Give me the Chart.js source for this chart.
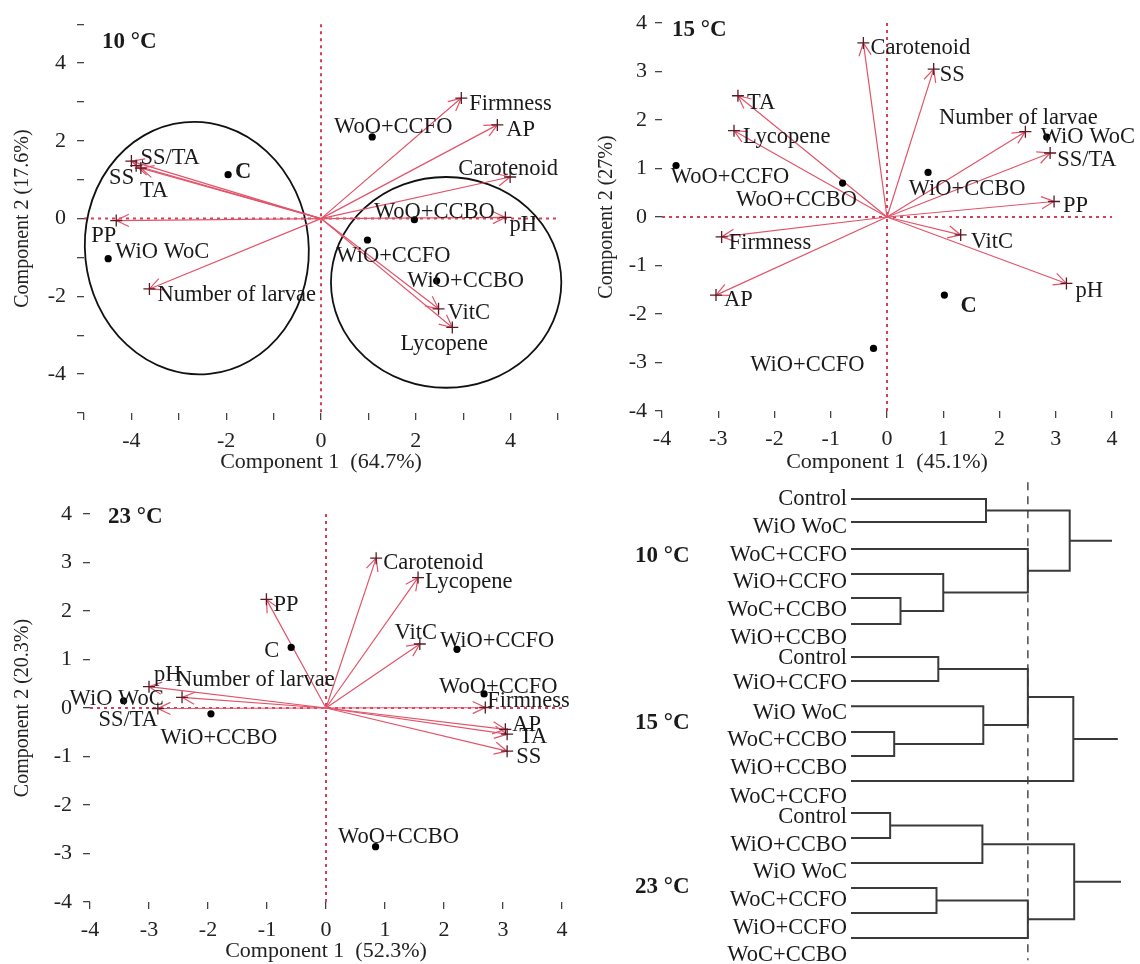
<!DOCTYPE html>
<html>
<head>
<meta charset="utf-8">
<title>PCA biplots and cluster dendrogram</title>
<script src="https://cdn.jsdelivr.net/npm/chart.js@4.4.1/dist/chart.umd.min.js"></script>
<style>
  body { margin: 0; background: #fff; }
  #page { position: relative; width: 1140px; height: 964px; overflow: hidden; }
  canvas { position: absolute; }
</style>
</head>
<body>
<div id="page">
  <canvas id="pca10" width="580" height="475" style="left:0;top:0"></canvas>
  <canvas id="pca15" width="560" height="475" style="left:580px;top:0"></canvas>
  <canvas id="pca23" width="580" height="489" style="left:0;top:475px"></canvas>
  <canvas id="dendro" width="560" height="494" style="left:580px;top:470px"></canvas>
</div>
<script>
// ---- 10 °C biplot ----
const treatments10 = ['C', 'WoO+CCFO', 'WoO+CCBO', 'WiO+CCFO', 'WiO+CCBO', 'WiO WoC'];
const pc1Scores10 = [-1.96, 1.08, 1.97, 0.98, 2.44, -4.49];
const pc2Scores10 = [1.13, 2.10, -0.03, -0.55, -1.60, -1.03];
const traits10 = ['Firmness', 'AP', 'Carotenoid', 'pH', 'VitC', 'Lycopene', 'Number of larvae', 'PP', 'SS/TA', 'SS', 'TA'];
const pc1Loadings10 = [2.96, 3.72, 3.99, 3.89, 2.48, 2.77, -3.62, -4.32, -4.0, -3.9, -3.8];
const pc2Loadings10 = [3.10, 2.41, 1.07, 0.03, -2.32, -2.80, -1.81, -0.05, 1.48, 1.36, 1.30];
// group ellipses: centre and half axes in component units
const ellipseCx10 = [-2.62, 2.64];
const ellipseCy10 = [-0.76, -1.64];
const ellipseRx10 = [2.36, 2.43];
const ellipseRy10 = [3.25, 2.71];

// ---- 15 °C biplot ----
const treatments15 = ['WoO+CCFO', 'WoO+CCBO', 'WiO+CCBO', 'WiO WoC', 'C', 'WiO+CCFO'];
const pc1Scores15 = [-3.75, -0.79, 0.73, 2.84, 1.02, -0.24];
const pc2Scores15 = [1.06, 0.70, 0.92, 1.65, -1.61, -2.71];
const traits15 = ['Carotenoid', 'SS', 'TA', 'Lycopene', 'Number of larvae', 'SS/TA', 'PP', 'VitC', 'pH', 'Firmness', 'AP'];
const pc1Loadings15 = [-0.42, 0.83, -2.65, -2.72, 2.46, 2.90, 2.97, 1.31, 3.19, -2.94, -3.04];
const pc2Loadings15 = [3.59, 3.05, 2.50, 1.78, 1.76, 1.32, 0.32, -0.37, -1.37, -0.41, -1.61];

// ---- 23 °C biplot ----
const treatments23 = ['C', 'WiO+CCFO', 'WoO+CCFO', 'WiO WoC', 'WiO+CCBO', 'WoO+CCBO'];
const pc1Scores23 = [-0.59, 2.22, 2.68, -3.43, -1.95, 0.84];
const pc2Scores23 = [1.25, 1.21, 0.29, 0.15, -0.12, -2.86];
const traits23 = ['Carotenoid', 'Lycopene', 'PP', 'VitC', 'Firmness', 'AP', 'TA', 'SS', 'pH', 'Number of larvae', 'SS/TA'];
const pc1Loadings23 = [0.85, 1.56, -1.01, 1.59, 2.70, 3.04, 3.07, 3.07, -3.00, -2.44, -2.85];
const pc2Loadings23 = [3.09, 2.69, 2.24, 1.32, 0.01, -0.44, -0.54, -0.89, 0.44, 0.22, -0.01];

// ---- dendrogram (leaf rows, merges as [nodeA, nodeB, distance]) ----
const groupNames = ['10 °C', '15 °C', '23 °C'];
const leaves10 = ['Control', 'WiO WoC', 'WoC+CCFO', 'WiO+CCFO', 'WoC+CCBO', 'WiO+CCBO'];
const leafRows10 = [0, 0.83, 1.8, 2.7, 3.56, 4.5];
const labelRows10 = [0, 1, 2, 3, 4, 5];
const merges10 = [[4, 5, 1.1], [3, 6, 2.05], [0, 1, 3.0], [2, 7, 3.93], [8, 9, 4.86]];
const leaves15 = ['Control', 'WiO+CCFO', 'WiO WoC', 'WoC+CCBO', 'WiO+CCBO', 'WoC+CCFO'];
const leafRows15 = [5.68, 6.55, 7.45, 8.38, 9.24, 10.14];
const labelRows15 = [5.72, 6.62, 7.7, 8.67, 9.68, 10.72];
const merges15 = [[0, 1, 1.94], [3, 4, 0.96], [2, 7, 2.94], [6, 8, 3.93], [9, 5, 4.94]];
const leaves23 = ['Control', 'WiO+CCBO', 'WiO WoC', 'WoC+CCFO', 'WiO+CCFO', 'WoC+CCBO'];
const leafRows23 = [11.29, 12.19, 13.09, 13.99, 14.89, 15.79];
const labelRows23 = [11.44, 12.45, 13.42, 14.42, 15.43, 16.4];
const merges23 = [[0, 1, 0.87], [6, 2, 2.92], [3, 4, 1.9], [8, 5, 3.93], [7, 9, 4.96]];
const rootTails = [5.8, 5.93, 6.0];
const groupRows = [2.05, 8.06, 13.95];
const cutDistance = 3.93;

// label placement: [dx, dy, align, bold]
const scoreTags10 = [[7, -2, 'left', true], [21, -10, 'center'], [20, -8, 'center'], [26, 16, 'center'], [29, 0, 'center'], [7, -7, 'left']];
const traitTags10 = [[8, 6, 'left'], [9, 5, 'left'], [-2, -8, 'center'], [4, 8, 'left'], [9, 4, 'left'], [-8, 17, 'center'],
  [8, 6, 'left'], [0, 16, 'right'], [9, -3, 'left'], [-2, 12, 'right'], [-1, 23, 'left']];
const scoreTags15 = [[54, 12, 'center'], [-46, 17, 'center'], [39, 17, 'center'], [-6, 0, 'left'], [16, 11, 'left', true], [-9, 17, 'right']];
const traitTags15 = [[7, 5, 'left'], [6, 6, 'left'], [9, 7, 'left'], [9, 6, 'left'], [-7, -14, 'center'], [7, 7, 'left'],
  [9, 5, 'left'], [10, 7, 'left'], [9, 8, 'left'], [7, 6, 'left'], [8, 5, 'left']];
const scoreTags23 = [[-12, 4, 'right'], [-17, -8, 'left'], [-45, -7, 'left'], [-7, -2, 'center'], [8, 24, 'center'], [23, -10, 'center']];
const traitTags23 = [[7, 5, 'left'], [7, 5, 'left'], [7, 6, 'left'], [-4, -11, 'center'], [2, -6, 'left'], [7, -4, 'left'],
  [12, 3, 'left'], [9, 6, 'left'], [5, -12, 'left'], [-6, -17, 'left'], [0, 12, 'right']];

const SERIF = '"Liberation Serif", "Times New Roman", serif';
const ARROW = '#e2546a';

// arrows, zero lines, ellipses and text for the biplots
const biplotPlugin = {
  id: 'biplot',
  beforeDatasetsDraw(chart, args, opts) {
    const { ctx, chartArea: a, scales: { x, y } } = chart;
    const x0 = x.getPixelForValue(0), y0 = y.getPixelForValue(0);
    ctx.save();
    ctx.strokeStyle = '#d63f58';
    ctx.lineWidth = 2;
    ctx.setLineDash([3, 4]);
    ctx.beginPath();
    ctx.moveTo(a.left, y0); ctx.lineTo(a.right, y0);
    ctx.moveTo(x0, a.top); ctx.lineTo(x0, a.bottom);
    ctx.stroke();
    ctx.setLineDash([]);

    (opts.ellipses || []).forEach(e => {
      const cx = x.getPixelForValue(e.cx), cy = y.getPixelForValue(e.cy);
      const rx = x.getPixelForValue(e.cx + e.rx) - cx;
      const ry = cy - y.getPixelForValue(e.cy + e.ry);
      ctx.strokeStyle = '#111';
      ctx.lineWidth = 1.8;
      ctx.beginPath();
      ctx.ellipse(cx, cy, rx, ry, e.rot || 0, 0, Math.PI * 2);
      ctx.stroke();
    });

    ctx.strokeStyle = ARROW;
    ctx.lineWidth = 1.2;
    chart.getDatasetMeta(1).data.forEach(pt => {
      const ang = Math.atan2(pt.y - y0, pt.x - x0);
      ctx.beginPath();
      ctx.moveTo(x0, y0);
      ctx.lineTo(pt.x, pt.y);
      ctx.moveTo(pt.x - 14 * Math.cos(ang - 0.45), pt.y - 14 * Math.sin(ang - 0.45));
      ctx.lineTo(pt.x, pt.y);
      ctx.lineTo(pt.x - 14 * Math.cos(ang + 0.45), pt.y - 14 * Math.sin(ang + 0.45));
      ctx.stroke();
    });
    ctx.restore();
  },
  afterDatasetsDraw(chart, args, opts) {
    const { ctx } = chart;
    ctx.save();
    ctx.fillStyle = '#1a1a1a';
    ctx.textBaseline = 'middle';
    [[0, opts.scoreNames, opts.scoreTags], [1, opts.traitNames, opts.traitTags]].forEach(([di, names, tags]) => {
      chart.getDatasetMeta(di).data.forEach((pt, i) => {
        const [dx, dy, align, bold] = tags[i];
        ctx.font = (bold ? 'bold ' : '') + '22.5px ' + SERIF;
        ctx.textAlign = align;
        ctx.fillText(names[i], pt.x + dx, pt.y + dy);
      });
    });
    ctx.font = 'bold 23px ' + SERIF;
    ctx.textAlign = 'left';
    ctx.fillText(opts.title, opts.titleAt[0], opts.titleAt[1]);
    ctx.restore();
  }
};

function biplot(id, o) {
  const axisFont = { family: SERIF, size: 22 };
  const tickGrid = { drawOnChartArea: false, tickLength: 7, color: '#444', lineWidth: 1.3 };
  return new Chart(document.getElementById(id), {
    type: 'scatter',
    data: {
      datasets: [{
        data: o.sx.map((v, i) => ({ x: v, y: o.sy[i] })),
        pointRadius: 3.6,
        backgroundColor: '#000',
        borderWidth: 0
      }, {
        data: o.lx.map((v, i) => ({ x: v, y: o.ly[i] })),
        pointStyle: 'cross',
        pointRadius: 6,
        borderColor: '#5a1a24',
        borderWidth: 1.3
      }]
    },
    options: {
      responsive: false,
      animation: false,
      devicePixelRatio: 1,
      layout: { padding: { left: 0, top: o.top, right: o.right, bottom: 0 } },
      plugins: {
        legend: { display: false },
        tooltip: { enabled: false },
        biplot: {
          scoreNames: o.names, scoreTags: o.nameTags,
          traitNames: o.traits, traitTags: o.traitTags,
          ellipses: o.ellipses, title: o.title, titleAt: o.titleAt
        }
      },
      scales: {
        x: {
          type: 'linear', min: o.lim, max: -o.lim,
          afterFit: s => { s.height = o.xAxisH; },
          ticks: { stepSize: 1, autoSkip: false, maxRotation: 0, callback: o.tick, font: axisFont, color: '#222', padding: 8 },
          grid: tickGrid,
          border: { display: false },
          title: { display: true, text: o.xTitle, font: axisFont, color: '#222', padding: { top: 0, bottom: 0 } }
        },
        y: {
          type: 'linear', min: o.lim, max: -o.lim,
          afterFit: s => { s.width = o.yAxisW; },
          ticks: { stepSize: 1, autoSkip: false, callback: o.tick, font: axisFont, color: '#222', padding: o.yPad },
          grid: tickGrid,
          border: { display: false },
          title: { display: true, text: o.yTitle, font: { family: SERIF, size: 20 }, color: '#222', padding: { top: o.yTitlePad, bottom: 0 } }
        }
      }
    },
    plugins: [biplotPlugin]
  });
}

biplot('pca10', {
  sx: pc1Scores10, sy: pc2Scores10, names: treatments10, nameTags: scoreTags10,
  lx: pc1Loadings10, ly: pc2Loadings10, traits: traits10, traitTags: traitTags10,
  ellipses: ellipseCx10.map((c, i) => ({ cx: c, cy: ellipseCy10[i], rx: ellipseRx10[i], ry: ellipseRy10[i], rot: i === 0 ? -0.1 : 0 })),
  lim: -5, tick: v => (v % 2 === 0 ? v : ''),
  title: '10 °C', titleAt: [102, 42],
  xTitle: 'Component 1  (64.7%)', yTitle: 'Component 2 (17.6%)',
  top: 15, right: 22, xAxisH: 62, yAxisW: 84, yPad: 11, yTitlePad: 11
});

biplot('pca15', {
  sx: pc1Scores15, sy: pc2Scores15, names: treatments15, nameTags: scoreTags15,
  lx: pc1Loadings15, ly: pc2Loadings15, traits: traits15, traitTags: traitTags15,
  lim: -4, tick: v => v,
  title: '15 °C', titleAt: [92, 30],
  xTitle: 'Component 1  (45.1%)', yTitle: 'Component 2 (27%)',
  top: 23, right: 28, xAxisH: 64, yAxisW: 82, yPad: 8, yTitlePad: 15
});

biplot('pca23', {
  sx: pc1Scores23, sy: pc2Scores23, names: treatments23, nameTags: scoreTags23,
  lx: pc1Loadings23, ly: pc2Loadings23, traits: traits23, traitTags: traitTags23,
  lim: -4, tick: v => v,
  title: '23 °C', titleAt: [108, 42],
  xTitle: 'Component 1  (52.3%)', yTitle: 'Component 2 (20.3%)',
  top: 39, right: 18, xAxisH: 62, yAxisW: 90, yPad: 11, yTitlePad: 11
});

// ---- dendrogram ----
function dendroLinks(leafRows, merges, tail) {
  const ys = leafRows.slice();
  const hs = leafRows.map(() => 0);
  const sets = [];
  const link = pts => ({ data: pts, showLine: true, borderColor: '#3a3a3a', borderWidth: 2, pointRadius: 0, tension: 0 });
  merges.forEach(([a, b, h]) => {
    sets.push(link([{ x: hs[a], y: ys[a] }, { x: h, y: ys[a] }, { x: h, y: ys[b] }, { x: hs[b], y: ys[b] }]));
    ys.push((ys[a] + ys[b]) / 2);
    hs.push(h);
  });
  const root = ys.length - 1;
  sets.push(link([{ x: hs[root], y: ys[root] }, { x: tail, y: ys[root] }]));
  return sets;
}

const dendroLabelPlugin = {
  id: 'dendroLabels',
  afterDatasetsDraw(chart) {
    const { ctx, scales: { x, y } } = chart;
    const x0 = x.getPixelForValue(0);
    ctx.save();
    ctx.fillStyle = '#1a1a1a';
    ctx.textBaseline = 'middle';
    ctx.font = '22.5px ' + SERIF;
    ctx.textAlign = 'right';
    [[leaves10, labelRows10], [leaves15, labelRows15], [leaves23, labelRows23]].forEach(([names, rows]) => {
      names.forEach((n, i) => ctx.fillText(n, x0 - 4, y.getPixelForValue(rows[i])));
    });
    ctx.font = 'bold 23px ' + SERIF;
    ctx.textAlign = 'left';
    groupNames.forEach((g, i) => ctx.fillText(g, x0 - 216, y.getPixelForValue(groupRows[i])));
    ctx.restore();
  }
};

new Chart(document.getElementById('dendro'), {
  type: 'scatter',
  data: {
    datasets: [
      ...dendroLinks(leafRows10, merges10, rootTails[0]),
      ...dendroLinks(leafRows15, merges15, rootTails[1]),
      ...dendroLinks(leafRows23, merges23, rootTails[2]),
      {
        data: [{ x: cutDistance, y: -0.6 }, { x: cutDistance, y: 16.6 }],
        showLine: true, borderColor: '#555', borderWidth: 1.6, borderDash: [8, 6], pointRadius: 0
      }
    ]
  },
  options: {
    responsive: false,
    animation: false,
    devicePixelRatio: 1,
    layout: { padding: { left: 271, right: 10, top: 4, bottom: 3.5 } },
    plugins: { legend: { display: false }, tooltip: { enabled: false } },
    scales: {
      x: { type: 'linear', display: false, min: 0, max: 6.2 },
      y: { type: 'linear', display: false, reverse: true, min: -0.9, max: 16.6 }
    }
  },
  plugins: [dendroLabelPlugin]
});
</script>
</body>
</html>
